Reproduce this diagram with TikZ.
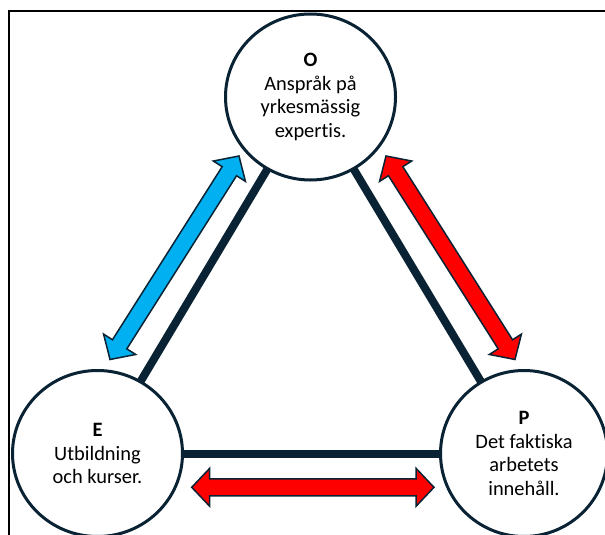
\documentclass[tikz,border=0pt]{standalone}
\usepackage{fontspec}
\setmainfont{Carlito}[Ligatures=NoCommon]
\usetikzlibrary{shapes.geometric,calc}
\definecolor{navy}{RGB}{10,35,52}
\definecolor{skyb}{RGB}{0,176,240}
\definecolor{redf}{RGB}{255,0,0}
\newcommand\mydblarrow[3]{%
 \coordinate (h1) at ($(#1)!18bp!(#2)$);
 \coordinate (h2) at ($(#2)!18bp!(#1)$);
 \draw[arrowbox, fill=#3] (#1) -- ($(h1)!19bp!90:(#2)$) -- ($(h1)!8.5bp!90:(#2)$)
   -- ($(h2)!8.5bp!-90:(#1)$) -- ($(h2)!19bp!-90:(#1)$) -- (#2)
   -- ($(h2)!19bp!90:(#1)$) -- ($(h2)!8.5bp!90:(#1)$)
   -- ($(h1)!8.5bp!-90:(#2)$) -- ($(h1)!19bp!-90:(#2)$) -- cycle;}
\begin{document}
\begin{tikzpicture}[x=1bp,y=-1bp,
  circ/.style={ellipse, draw=navy, line width=3bp, fill=white, minimum width=170bp,
    minimum height=166bp, inner sep=0pt, align=center, text=black,
    font=\fontsize{20.5}{23.8}\selectfont},
  tri/.style={line width=8bp, draw=navy, shorten <=-2bp, shorten >=-2bp},
  arrowbox/.style={draw=navy, line width=1.5bp, line join=miter},
  frame/.style={draw=black, line width=2bp}]
\useasboundingbox (0,0) rectangle (605,535);
\clip (0,0) rectangle (605,535);
\draw[frame] (8.7,540) -- (8.7,11.3) -- (610,11.3);
\node[circ] (O) at (310.5,97) {\textbf{O}\\Anspråk på\\yrkesmässig\\expertis.};
\node[circ] (E) at (97.5,453.5) {\textbf{E}\\Utbildning\\och kurser.};
\node[circ, minimum width=167bp] (P) at (524,453.5) {\textbf{P}\\Det faktiska\\arbetets\\innehåll.};
\draw[tri] (O) -- (E);
\draw[tri] (O) -- (P);
\draw[tri] (E) -- (P);
\coordinate (b1) at (110,359.5);
\coordinate (b2) at (239,156);
\coordinate (r1) at (386,156);
\coordinate (r2) at (515,359.5);
\coordinate (m1) at (191.7,487.3);
\coordinate (m2) at (434,487.3);
\mydblarrow{b1}{b2}{skyb}
\mydblarrow{r1}{r2}{redf}
\mydblarrow{m1}{m2}{redf}
\end{tikzpicture}
\end{document}
